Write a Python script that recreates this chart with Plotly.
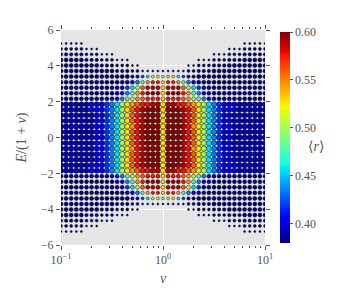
import numpy as np
import plotly.graph_objects as go

# ---- data ----
v_values = [0.1, 0.1122, 0.1259, 0.1413, 0.1585, 0.1778, 0.1995, 0.2239, 0.2512, 0.2818,
            0.3162, 0.3548, 0.3981, 0.4467, 0.5012, 0.5623, 0.6310, 0.7079, 0.7943, 0.8913,
            1.0,
            1.122, 1.259, 1.413, 1.585, 1.778, 1.995, 2.239, 2.512, 2.818,
            3.162, 3.548, 3.981, 4.467, 5.012, 5.623, 6.310, 7.079, 7.943, 8.913, 10.0]

e_values = [5.25, 4.94, 4.64, 4.33, 4.02, 3.71, 3.40, 3.09, 2.78, 2.47, 2.16, 1.85,
            1.55, 1.24, 0.93, 0.62, 0.31, 0.0, -0.31, -0.62, -0.93, -1.24, -1.55,
            -1.85, -2.16, -2.47, -2.78, -3.09, -3.40, -3.71, -4.02, -4.33, -4.64,
            -4.94, -5.25]

# <r> level per character
r_levels = {'a': 0.380, 'b': 0.390, 'c': 0.400, 'd': 0.418, 'e': 0.435, 'f': 0.455,
            'g': 0.479, 'h': 0.499, 'i': 0.528, 'j': 0.545, 'k': 0.559, 'l': 0.577,
            'm': 0.590, 'n': 0.598}

# rows top (E=5.25) to bottom; columns follow v_values; '.' = no point
r_map = [
    "aaaaa..... .......... . .......... .....aaaaa",
    "aaaaaaaa.. .......... . .......... ..aaaaaaaa",
    "aaaaaaaaaa a......... . .........a aaaaaaaaaa",
    "aaaaaaaaaa aaaa...... . ......aaaa aaaaaaaaaa",
    "aaaaaaaaaa aaaaaa.... . ....aaaaaa aaaaaaaaaa",
    "aaaaaaaaaa aaaaaabccc c cccbaaaaaa aaaaaaaaaa",
    "aaaaaaaaaa aaaaabdfih h hifdbaaaaa aaaaaaaaaa",
    "aaaaaaaaaa aaabcegjll i lljgecbaaa aaaaaaaaaa",
    "aaaaaaaaaa aabdfhkmmm i mmmkhfdbaa aaaaaaaaaa",
    "aaaaaaaaaa abcegjlnnn i nnnljgecba aaaaaaaaaa",
    "aaaaaaaaaa bceghjklll i lllkjhgecb aaaaaaaaaa",
    "bbbbbbcccd efhijkllmm i mmllkjihfe dcccbbbbbb",
    "bbbbbbcccd efhiklmnnn i nnnmlkihfe dcccbbbbbb",
    "bbbbbbbccd efhiklmnnn i nnnmlkihfe dccbbbbbbb",
    "bbbbbbbccd efhiklmnnn i nnnmlkihfe dccbbbbbbb",
    "bbbbbbbccd efhijlmnnn i nnnmljihfe dccbbbbbbb",
    "bbbbbbbccd efhiklmnnn i nnnmlkihfe dccbbbbbbb",
    "bbbbbbbccd efhiklmnnn i nnnmlkihfe dccbbbbbbb",
    "bbbbbbbccd efhiklmnnn i nnnmlkihfe dccbbbbbbb",
    "bbbbbbbccd efhijlmnnn i nnnmljihfe dccbbbbbbb",
    "bbbbbbbccd efhiklmnnn i nnnmlkihfe dccbbbbbbb",
    "bbbbbbbccd efhiklmnnn i nnnmlkihfe dccbbbbbbb",
    "bbbbbbcccd efhiklmnnn i nnnmlkihfe dcccbbbbbb",
    "bbbbbbcccd efhijkllmm i mmllkjihfe dcccbbbbbb",
    "aaaaaaaaaa bceghjklll i lllkjhgecb aaaaaaaaaa",
    "aaaaaaaaaa abcegjlnnn i nnnljgecba aaaaaaaaaa",
    "aaaaaaaaaa aabdfhkmmm i mmmkhfdbaa aaaaaaaaaa",
    "aaaaaaaaaa aaabcegjll i lljgecbaaa aaaaaaaaaa",
    "aaaaaaaaaa aaaaabdfih h hifdbaaaaa aaaaaaaaaa",
    "aaaaaaaaaa aaaaaabccc c cccbaaaaaa aaaaaaaaaa",
    "aaaaaaaaaa aaaaaa.... . ....aaaaaa aaaaaaaaaa",
    "aaaaaaaaaa aaaa...... . ......aaaa aaaaaaaaaa",
    "aaaaaaaaaa a......... . .........a aaaaaaaaaa",
    "aaaaaaaa.. .......... . .......... ..aaaaaaaa",
    "aaaaa..... .......... . .......... .....aaaaa",
]

cbar_ticks = [0.40, 0.45, 0.50, 0.55, 0.60]
cbar_labels = ["0.40", "0.45", "0.50", "0.55", "0.60"]
y_ticks = [-6, -4, -2, 0, 2, 4, 6]
y_labels = ["\u22126", "\u22124", "\u22122", "0", "2", "4", "6"]
x_ticks = [0.1, 1, 10]
x_labels = ["10<sup>\u22121</sup>", "10<sup>0</sup>", "10<sup>1</sup>"]

# ---- build points ----
rows = [r.replace(" ", "") for r in r_map]
for r in rows:
    if len(r) != len(v_values):
        raise ValueError("bad row length: %d" % len(r))
nrows = len(rows)
mid = nrows // 2
extent = []
for c in range(len(v_values)):
    ks = [abs(mid - i) for i in range(nrows) if rows[i][c] != '.']
    extent.append(max(ks))

xs, ys, cs, ss = [], [], [], []
for i, r in enumerate(rows):
    k = abs(mid - i)
    for c, ch in enumerate(r):
        if ch == '.':
            continue
        xs.append(v_values[c])
        ys.append(e_values[i])
        cs.append(r_levels[ch])
        s = extent[c] - k
        if k <= 6:
            size = 5.3
        elif s == 0:
            size = 2.0
        elif s == 1:
            size = 2.9
        elif s == 2:
            size = 3.4
        else:
            size = 4.0
        ss.append(size)

# matplotlib 'jet' colourscale
stops = [0, 0.11, 0.125, 0.34, 0.35, 0.375, 0.64, 0.65, 0.66, 0.89, 0.91, 1.0]
def jet(f):
    r = np.interp(f, [0, 0.35, 0.66, 0.89, 1.0], [0, 0, 1, 1, 0.5])
    g = np.interp(f, [0, 0.125, 0.375, 0.64, 0.91, 1.0], [0, 0, 1, 1, 0, 0])
    b = np.interp(f, [0, 0.11, 0.34, 0.65, 1.0], [0.5, 1, 1, 0, 0])
    return "rgb(%d,%d,%d)" % (round(r * 255), round(g * 255), round(b * 255))
jet_scale = [[s, jet(s)] for s in stops]

font_family = "Liberation Serif, DejaVu Serif, serif"
gray = "#555555"

fig = go.Figure(go.Scatter(
    x=xs, y=ys, mode="markers",
    marker=dict(
        color=cs, cmin=0.38, cmax=0.60, colorscale=jet_scale, size=ss, opacity=1,
        line=dict(width=0.6, color="rgba(0,0,0,0.8)"),
        colorbar=dict(
            thickness=10, len=0.98, x=1.0735, xanchor="left", y=0.5, yanchor="middle",
            xpad=0, ypad=0, outlinewidth=0, ticks="outside", ticklen=3, tickcolor=gray,
            tickvals=cbar_ticks, ticktext=cbar_labels,
            tickfont=dict(family=font_family, size=12, color=gray),
        ),
    ),
    showlegend=False, hoverinfo="skip",
))

# page body has an 8px margin, so the figure is shrunk by that amount
fig.update_layout(
    width=345, height=298,
    margin=dict(l=53, r=88, t=22, b=61),
    paper_bgcolor="white", plot_bgcolor="#E5E5E5",
    font=dict(family=font_family, size=12, color=gray),
    xaxis=dict(
        type="log", range=[-1, 1], tickvals=x_ticks, ticktext=x_labels,
        showgrid=True, gridcolor="white", gridwidth=1, zeroline=False,
        ticks="outside", ticklen=4, tickcolor=gray, mirror="ticks", showline=False,
        tickfont=dict(family=font_family, size=12, color=gray),
        minor=dict(ticks="outside", ticklen=2, tickcolor=gray, showgrid=False,
                   tickvals=[0.2, 0.3, 0.4, 0.5, 0.6, 0.7, 0.8, 0.9,
                             2, 3, 4, 5, 6, 7, 8, 9]),
        title=dict(text="<i>v</i>", font=dict(family=font_family, size=14, color=gray),
                   standoff=6),
    ),
    yaxis=dict(
        range=[-6, 6], tickvals=y_ticks, ticktext=y_labels,
        showgrid=True, gridcolor="white", gridwidth=1, zeroline=False,
        ticks="outside", ticklen=4, tickcolor=gray, mirror="ticks", showline=False,
        tickfont=dict(family=font_family, size=12, color=gray),
        title=dict(text="<i>E</i>/(1 + <i>v</i>)",
                   font=dict(family=font_family, size=14, color=gray), standoff=10),
    ),
    annotations=[dict(text="\u27e8<i>r</i>\u27e9", x=1.30, y=0.46, xref="paper", yref="paper",
                      showarrow=False, font=dict(family=font_family, size=14, color=gray))],
)

fig.write_html("out.html")
